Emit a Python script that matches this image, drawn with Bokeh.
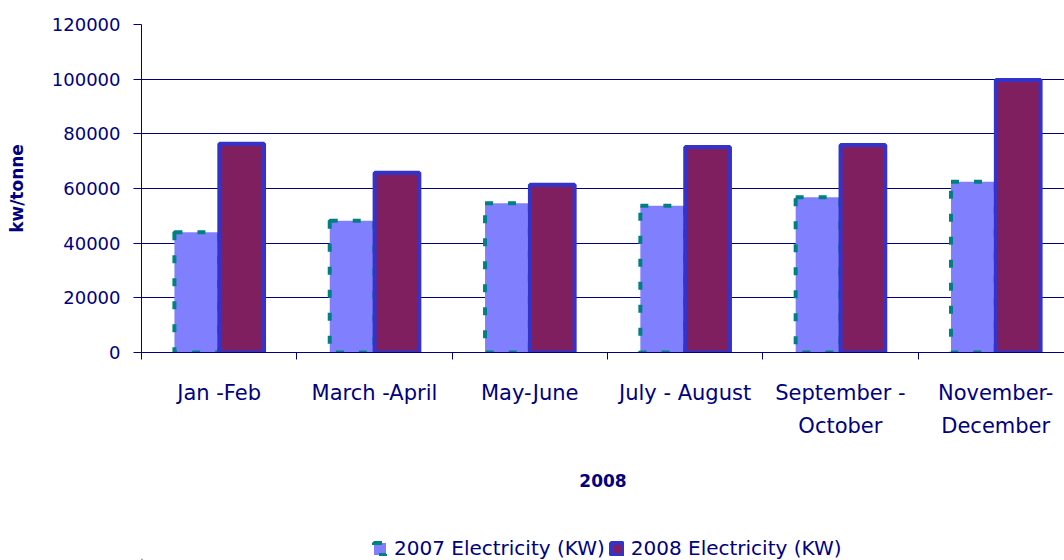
from bokeh.plotting import figure
from bokeh.layouts import column
from bokeh.models import (Range1d, FixedTicker, NumeralTickFormatter, Legend, LegendItem,
                          ColumnDataSource)
from bokeh.embed import file_html
from bokeh.resources import INLINE

# ---- data ----
categories = ["Jan -Feb", "March -April", "May-June", "July - August",
              "September -\nOctober", "November-\nDecember"]
electricity_2007 = [44000, 48200, 54600, 53700, 56800, 62500]
electricity_2008 = [76400, 65800, 61400, 75200, 75900, 99700]
y_ticks = [0, 20000, 40000, 60000, 80000, 100000, 120000]
series_names = ["2007 Electricity (KW)", "2008 Electricity (KW)"]

NAVY = "#000080"
FONT = "DejaVu Sans"
STYLE07 = dict(fill_color="#8080FF", line_color="#008080", line_width=4, line_dash="8 15")
STYLE08 = dict(fill_color="#7F1F5F", line_color="#3333CC", line_width=4)

n = len(categories)
centers = [i + 0.5 for i in range(n)]
src = ColumnDataSource(dict(
    x07=[i + 0.356 for i in range(n)],
    x08=[i + 0.645 for i in range(n)],
    v07=electricity_2007,
    v08=electricity_2008,
))

p = figure(width=1064, height=524, output_backend="svg", toolbar_location=None,
           x_range=Range1d(0, 5.943), y_range=Range1d(0, 120000),
           min_border_left=141, min_border_top=24, min_border_right=0,
           min_border_bottom=172)
p.outline_line_color = None
p.background_fill_color = "white"
p.border_fill_color = "white"

p.vbar(x="x07", top="v07", width=0.288, source=src, **STYLE07)
p.vbar(x="x08", top="v08", width=0.288, source=src, **STYLE08)

# y axis
yax = p.yaxis[0]
yax.ticker = FixedTicker(ticks=y_ticks)
yax.formatter = NumeralTickFormatter(format="0")
yax.axis_line_color = NAVY
yax.major_tick_line_color = NAVY
yax.major_tick_out = 8
yax.major_tick_in = 0
yax.minor_tick_line_color = None
yax.major_label_standoff = 13
yax.major_label_text_font = FONT
yax.major_label_text_font_size = "18px"
yax.major_label_text_color = NAVY
yax.axis_label = "kw/tonne"
yax.axis_label_text_font = FONT
yax.axis_label_text_font_style = "bold"
yax.axis_label_text_font_size = "17px"
yax.axis_label_text_color = NAVY
yax.axis_label_standoff = 22

# x axis
xax = p.xaxis[0]
xax.ticker = FixedTicker(ticks=centers, minor_ticks=list(range(n + 1)))
xax.major_label_overrides = {c: lab for c, lab in zip(centers, categories)}
xax.axis_line_color = NAVY
xax.major_tick_line_color = None
xax.major_tick_out = 0
xax.major_tick_in = 0
xax.minor_tick_line_color = NAVY
xax.minor_tick_out = 7
xax.minor_tick_in = 0
xax.major_label_standoff = 21
xax.major_label_text_font = FONT
xax.major_label_text_font_size = "21px"
xax.major_label_text_color = NAVY
xax.major_label_text_line_height = 1.4
xax.axis_label = "2008"
xax.axis_label_text_font = FONT
xax.axis_label_text_font_style = "bold"
xax.axis_label_text_font_size = "17px"
xax.axis_label_text_color = NAVY
xax.axis_label_standoff = 33

p.xgrid.grid_line_color = None
p.ygrid.ticker = FixedTicker(ticks=y_ticks)
p.ygrid.grid_line_color = NAVY
p.ygrid.grid_line_width = 1

# ---- legend strip below the chart ----
lg = figure(width=1064, height=36, output_backend="svg", toolbar_location=None,
            x_range=Range1d(0, 1), y_range=Range1d(0, 1),
            x_axis_type=None, y_axis_type=None, min_border=0)
lg.outline_line_color = None
lg.xgrid.visible = False
lg.ygrid.visible = False
# one far off-screen row each, so the legend has something to draw its swatch from
swatch = ColumnDataSource(dict(x=[-1000], top=[-999], bottom=[-1000]))
l07 = lg.vbar(x="x", top="top", bottom="bottom", width=0.1, source=swatch, **STYLE07)
l08 = lg.vbar(x="x", top="top", bottom="bottom", width=0.1, source=swatch, **STYLE08)
legend = Legend(items=[LegendItem(label=series_names[0], renderers=[l07]),
                       LegendItem(label=series_names[1], renderers=[l08])],
                orientation="horizontal", location=(231, 0),
                padding=0, margin=0, spacing=4, glyph_width=15, glyph_height=15,
                label_standoff=7, border_line_color=None, background_fill_alpha=0,
                label_text_font=FONT, label_text_font_size="20px",
                label_text_color=NAVY)
lg.add_layout(legend, "center")

layout = column(p, lg, spacing=0)
open("out.html", "w").write(file_html(layout, INLINE))
